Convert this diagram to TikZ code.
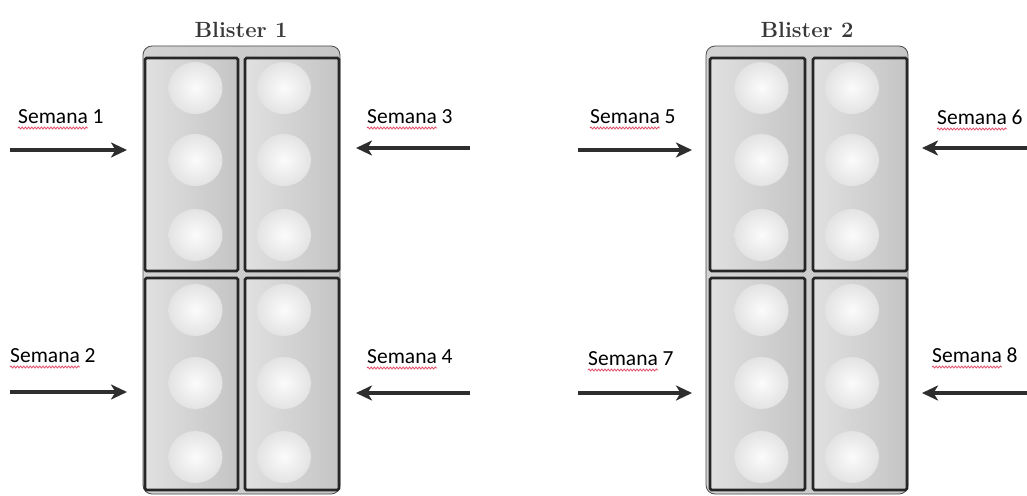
\documentclass[tikz,border=0pt]{standalone}
\usepackage{fontspec}
\newfontfamily\calfont{Carlito}
\usetikzlibrary{arrows.meta,decorations.pathmorphing,shadings}
\definecolor{arrowc}{HTML}{2E2E2E}
\definecolor{squigc}{HTML}{E0506A}
\tikzset{
 lab/.style={font=\calfont\fontsize{21.5}{24}\selectfont, inner sep=0pt, anchor=base west, text=black},
 arr/.style={line width=3.3pt, draw=arrowc, -{Stealth[length=16pt,width=15pt,inset=4.5pt]}},
 squig/.style={draw=squigc, line width=0.8pt, decorate, decoration={snake, amplitude=1pt, segment length=3.2pt}},
 ttl/.style={font=\bfseries\fontsize{22}{24}\selectfont, text=black!78, inner sep=0pt},
 backing/.style={left color=gray!35, right color=gray!45, draw=gray!60!black, line width=0.8pt, rounded corners=9pt},
 cell/.style={left color=gray!24, right color=gray!46, draw=black!85, line width=2.6pt, rounded corners=1.5pt},
 pill/.style={inner color=white!97!gray, outer color=gray!22},
}
\newcommand\myblister[6]{%
 \path[backing] (#1,46) rectangle (#2,494);
 \foreach \ya/\yb in {58/271,278/490}{%
   \path[cell] (#3,\ya) rectangle (#4,\yb);
   \path[cell] (#5,\ya) rectangle (#6,\yb);
 }
 \foreach \cy in {88,160,235,310,383,457}{%
   \path[pill] ({(#3+#4)/2+4},\cy) ellipse [x radius=27pt, y radius=26pt];
   \path[pill] ({(#5+#6)/2-8},\cy) ellipse [x radius=27pt, y radius=26pt];
 }
}
\begin{document}
\begin{tikzpicture}[x=1pt,y=-1pt]
\useasboundingbox (0,0) rectangle (1027,495);
\fill[white] (0,0) rectangle (1027,495);

% blisters
\myblister{143}{340}{145}{238}{245}{339}
\myblister{706}{908}{710}{805}{813}{907}
\node[ttl] (t1) at (241,30) {Blister 1};
\node[ttl] (t2) at (807,30) {Blister 2};

% labels
\node[lab] (l1) at (18,123) {Semana 1};
\node[lab] (l2) at (10,362) {Semana 2};
\node[lab] (l3) at (367,123) {Semana 3};
\node[lab] (l4) at (367,363) {Semana 4};
\node[lab] (l5) at (590,123) {Semana 5};
\node[lab] (l6) at (937,124) {Semana 6};
\node[lab] (l7) at (588,365) {Semana 7};
\node[lab] (l8) at (932,362) {Semana 8};
\foreach \n in {l1,l2,l3,l4,l5,l6,l7,l8}{%
  \draw[squig] ([yshift=-5pt]\n.base west) -- ([yshift=-5pt,xshift=70pt]\n.base west);
}

% arrows
\coordinate (a1s) at (10,150);   \coordinate (a1e) at (127,150);
\coordinate (a2s) at (10,392);   \coordinate (a2e) at (127,392);
\coordinate (a3s) at (470,148);  \coordinate (a3e) at (356,148);
\coordinate (a4s) at (470,393);  \coordinate (a4e) at (356,393);
\coordinate (a5s) at (578,150);  \coordinate (a5e) at (692,150);
\coordinate (a6s) at (1027,148); \coordinate (a6e) at (922,148);
\coordinate (a7s) at (578,393);  \coordinate (a7e) at (692,393);
\coordinate (a8s) at (1027,393); \coordinate (a8e) at (922,393);
\foreach \k in {1,...,8}{\draw[arr] (a\k s) -- (a\k e);}
\end{tikzpicture}
\end{document}
